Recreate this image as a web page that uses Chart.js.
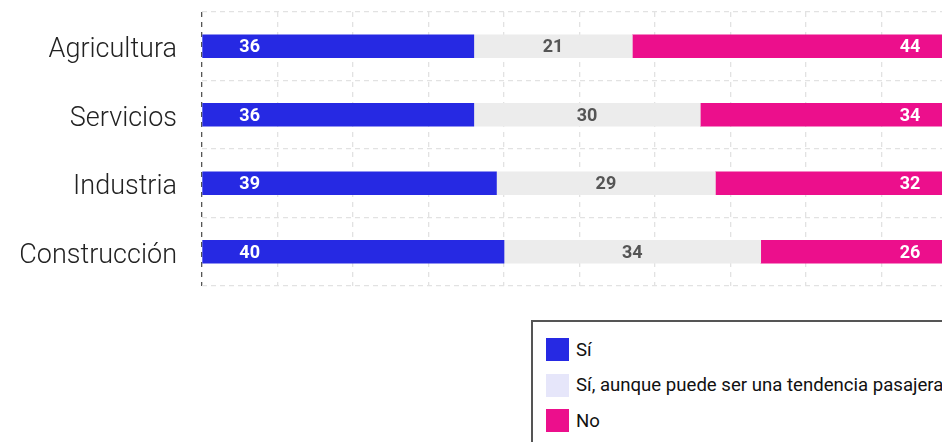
<!DOCTYPE html>
<html>
<head>
<meta charset="utf-8">
<script src="https://cdn.jsdelivr.net/npm/chart.js@4/dist/chart.umd.min.js"></script>
<style>
  html, body { margin: 0; padding: 0; background: #fff; overflow: hidden; width: 942px; height: 442px; }
  #c { position: absolute; left: 0; top: 0; }
  #legend { position: absolute; left: 531px; top: 320px; width: 440px; height: 140px; border: 2px solid #555; box-sizing: border-box; padding: 10px 0 0 13px; font-family: Roboto, sans-serif; font-size: 18.6px; color: #111; }
  .item { display: flex; align-items: center; height: 35.5px; white-space: nowrap; }
  .sw { width: 23px; height: 23px; margin-right: 7px; flex: none; }
</style>
</head>
<body>
<canvas id="c" width="962" height="300"></canvas>
<div id="legend"></div>
<script>
const categories = ['Agricultura', 'Servicios', 'Industria', 'Construcción'];
const seriesNames = ['Sí', 'Sí, aunque puede ser una tendencia pasajera', 'No'];
const siValues = [36, 36, 39, 40];
const tendenciaValues = [21, 30, 29, 34];
const noValues = [44, 34, 32, 26];
const xTicks = [0, 10, 20, 30, 40, 50, 60, 70, 80, 90, 100];

const barColors = ['#2629e3', '#ececec', '#ec0f8c'];
const legendColors = ['#2629e3', '#e6e6fa', '#ec0f8c'];
const labelColors = ['#ffffff', '#555555', '#ffffff'];
const labelModes = ['start', 'center', 'end'];

const seriesValues = [siValues, tendenciaValues, noValues];

const labelPlugin = {
  id: 'barLabels',
  afterDatasetsDraw(chart) {
    const ctx = chart.ctx;
    const area = chart.chartArea;
    ctx.save();
    ctx.font = 'bold 18px Roboto, sans-serif';
    ctx.textAlign = 'center';
    ctx.textBaseline = 'middle';
    chart.data.datasets.forEach((ds, di) => {
      const meta = chart.getDatasetMeta(di);
      meta.data.forEach((el, i) => {
        const start = Math.min(el.base, el.x);
        const end = Math.min(Math.max(el.base, el.x), area.right);
        let x;
        if (labelModes[di] === 'start') x = start + 47;
        else if (labelModes[di] === 'end') x = end - 47;
        else x = (start + end) / 2;
        ctx.fillStyle = labelColors[di];
        ctx.fillText(String(ds.data[i]), x, el.y + 1.5);
      });
    });
    ctx.restore();
  }
};

new Chart(document.getElementById('c'), {
  type: 'bar',
  data: {
    labels: categories,
    datasets: seriesNames.map((name, i) => ({
      label: name,
      data: seriesValues[i],
      backgroundColor: barColors[i],
      borderWidth: 0,
      barThickness: 23
    }))
  },
  options: {
    indexAxis: 'y',
    responsive: false,
    animation: false,
    layout: { padding: { top: 12, bottom: 14, left: 0, right: 5 } },
    plugins: { legend: { display: false }, tooltip: { enabled: false } },
    scales: {
      x: {
        stacked: true,
        min: 0,
        max: 100,
        afterBuildTicks(scale) { scale.ticks = xTicks.map(v => ({ value: v })); },
        afterFit(scale) { scale.paddingLeft = 0; scale.paddingRight = 0; },
        ticks: { display: false },
        grid: {
          color: (c) => (c.tick && c.tick.value === 0 ? '#555' : '#e2e2e2'),
          lineWidth: 1.3,
          drawTicks: false
        },
        border: { display: false, dash: [5, 5] }
      },
      y: {
        stacked: true,
        afterFit(scale) {
          scale.width = 202;
          scale.paddingTop = 0;
          scale.paddingBottom = 0;
        },
        ticks: { color: '#222', font: { family: 'Roboto', size: 27, weight: 300 }, padding: 25, labelOffset: 4 },
        grid: { color: '#e2e2e2', lineWidth: 1.3, drawTicks: false, offset: true },
        border: { display: false, dash: [5, 4] }
      }
    }
  },
  plugins: [labelPlugin]
});

const legend = document.getElementById('legend');
seriesNames.forEach((name, i) => {
  const it = document.createElement('div');
  it.className = 'item';
  const sw = document.createElement('span');
  sw.className = 'sw';
  sw.style.background = legendColors[i];
  const tx = document.createElement('span');
  tx.textContent = name;
  it.appendChild(sw);
  it.appendChild(tx);
  legend.appendChild(it);
});
</script>
</body>
</html>
